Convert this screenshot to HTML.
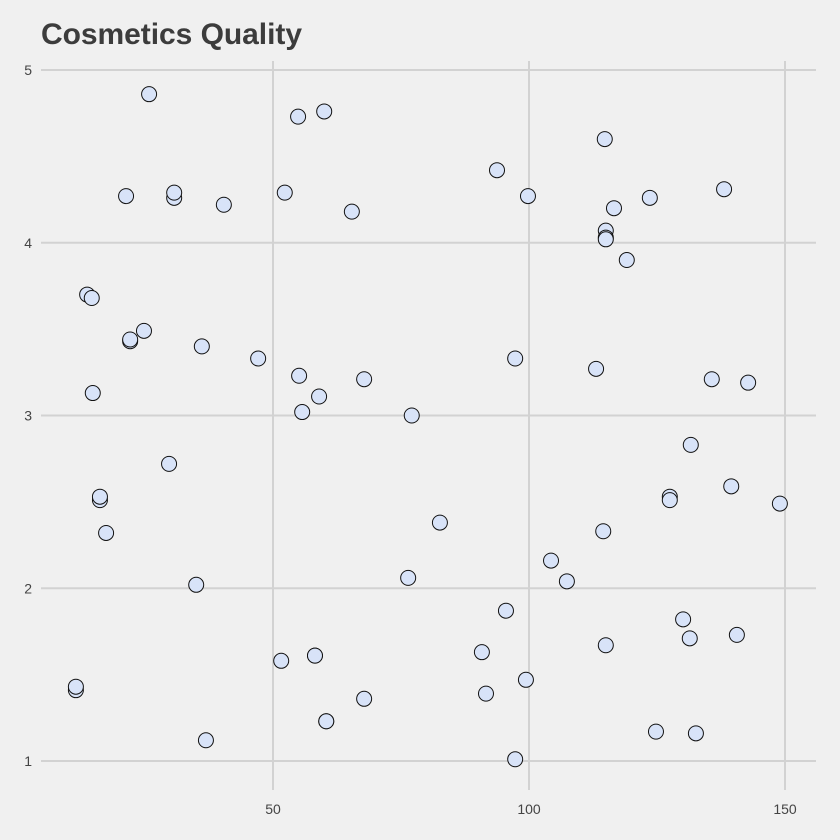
<!DOCTYPE html>
<html><head><meta charset="utf-8"><style>
html,body{margin:0;padding:0;background:#f0f0f0;}
svg{display:block;font-family:"Liberation Sans",sans-serif;}
</style></head><body>
<svg id="chart" width="840" height="840">
<rect width="840" height="840" fill="#f0f0f0"/>
<text x="41" y="44" font-size="30" font-weight="bold" fill="#3c3c3c" textLength="261">Cosmetics Quality</text>
<g id="grid"></g><g id="pts"></g>
</svg>
<script>
const xs=[25.8,54.9,60.0,114.8,93.75,99.8,21.3,30.7,30.7,40.4,52.3,65.4,116.6,123.6,138.1,115.0,115.0,115.0,119.1,13.7,14.6,22.1,22.1,24.8,36.1,47.1,97.3,113.1,55.1,67.8,135.7,142.8,14.8,59.0,55.7,77.1,131.6,29.7,127.5,127.5,16.2,16.2,139.5,149.0,17.4,82.6,114.5,104.3,107.4,76.4,35.0,95.5,130.1,115.0,131.4,140.6,51.6,58.2,58.2,90.8,11.5,11.5,91.6,99.4,67.8,60.4,60.4,124.8,132.6,36.9,97.3];
const ys=[4.86,4.73,4.76,4.60,4.42,4.27,4.27,4.26,4.29,4.22,4.29,4.18,4.20,4.26,4.31,4.07,4.03,4.02,3.90,3.70,3.68,3.43,3.44,3.49,3.40,3.33,3.33,3.27,3.23,3.21,3.21,3.19,3.13,3.11,3.02,3.00,2.83,2.72,2.53,2.51,2.51,2.53,2.59,2.49,2.32,2.38,2.33,2.16,2.04,2.06,2.02,1.87,1.82,1.67,1.71,1.73,1.58,1.61,1.61,1.63,1.41,1.43,1.39,1.47,1.36,1.23,1.23,1.17,1.16,1.12,1.01];
const xTicks=[50,100,150];
const yTicks=[1,2,3,4,5];
const X=v=>273+(v-50)*5.12;
const Y=v=>70+(5-v)*172.75;
const NS="http://www.w3.org/2000/svg";
const grid=document.getElementById('grid'),pts=document.getElementById('pts');
function mk(tag,attrs,parent){const e=document.createElementNS(NS,tag);for(const k in attrs)e.setAttribute(k,attrs[k]);parent.appendChild(e);return e;}
yTicks.forEach(t=>{
 const l=mk('line',{x1:41,x2:816,y1:Y(t),y2:Y(t),stroke:'#d2d2d2','stroke-width':2},grid);
 
 
 const tx=mk('text',{x:32,y:Y(t)+5,'font-size':14,fill:'#444','text-anchor':'end'},grid);
 tx.textContent=t;
 
 
});
xTicks.forEach(t=>{
 const l=mk('line',{x1:X(t),x2:X(t),y1:61,y2:790,stroke:'#d2d2d2','stroke-width':2},grid);
 
 
 const tx=mk('text',{x:X(t),y:814,'font-size':14,fill:'#444','text-anchor':'middle'},grid);
 tx.textContent=t;
 
 
});
xs.forEach((v,i)=>{
 const c=mk('circle',{cx:X(v),cy:Y(ys[i]),r:7.5,fill:'#d8e3f8',stroke:'#111','stroke-width':1},pts);
 
 
});
</script>
</body></html>
